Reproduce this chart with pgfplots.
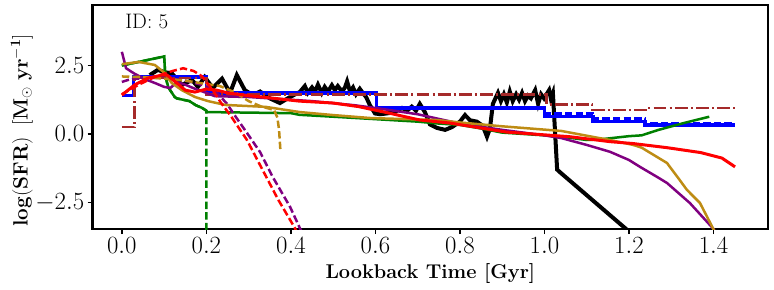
\documentclass[border=0pt]{standalone}
\usepackage{pgfplots}
\pgfplotsset{compat=1.18}
\definecolor{mplgreen}{RGB}{0,128,0}
\definecolor{mplpurple}{RGB}{128,0,128}
\definecolor{mplbrown}{RGB}{165,42,42}
\definecolor{mplgold}{RGB}{190,140,20}
\begin{document}
\begin{tikzpicture}
\begin{axis}[name=ax,
  scale only axis, width=675.3bp, height=224bp,
  xmin=-0.069, xmax=1.529, ymin=-3.47, ymax=4.71,
  xtick={0,0.2,0.4,0.6,0.8,1.0,1.2,1.4},
  ytick={-2.5,0,2.5},
  xticklabel style={/pgf/number format/.cd,fixed,fixed zerofill,precision=1},
  yticklabel style={/pgf/number format/.cd,fixed,fixed zerofill,precision=1},
  tick label style={font=\fontsize{23}{27}\selectfont},
  tick align=outside, tick pos=left,
  major tick length=5bp,
  every tick/.style={black, line width=1.5bp},
  axis line style={line width=2.5bp},
  xlabel={\textbf{Lookback Time [Gyr]}},
  ylabel={$\mathbf{log(SFR)\ \ [M_\odot\ yr^{-1}]}$},
  xlabel style={font=\fontsize{20}{24}\selectfont, at={(axis description cs:0.5,-0.223)}, anchor=base},
  ylabel style={font=\fontsize{19.5}{23}\selectfont, at={(axis description cs:-0.105,0.44)}, anchor=center},
  clip=true,
]
% black
\addplot[black, line width=4bp] coordinates {
(0.066,2.15)(0.085,2.34)(0.102,2.25)(0.118,2.22)(0.142,1.79)(0.166,1.97)(0.180,1.72)(0.196,2.08)(0.215,1.68)(0.237,2.02)(0.256,1.5)(0.272,2.15)(0.291,1.6)(0.310,1.42)(0.327,1.55)(0.350,1.3)(0.374,1.13)(0.398,1.35)(0.421,1.53)
(0.433,1.75)(0.440,1.5)(0.450,1.7)(0.457,1.55)(0.464,1.8)(0.473,1.5)(0.480,1.72)(0.488,1.55)(0.497,1.78)(0.504,1.6)(0.511,1.75)(0.521,1.55)(0.528,1.7)(0.533,1.92)(0.540,1.55)(0.547,1.7)(0.554,1.45)(0.563,1.65)(0.570,1.5)(0.578,1.35)(0.587,1.05)(0.599,0.75)(0.611,0.72)(0.627,0.75)(0.646,0.8)(0.663,0.95)(0.675,0.85)(0.686,1.0)(0.696,0.85)(0.705,1.1)(0.717,0.8)(0.729,0.35)(0.746,0.22)(0.765,0.15)(0.781,0.25)(0.800,0.45)(0.812,0.69)(0.824,0.5)(0.840,0.45)(0.854,0.3)(0.864,-0.1)(0.871,0.2)(0.878,1.1)(0.890,1.5)(0.897,1.2)(0.904,1.45)(0.911,1.15)(0.918,1.55)(0.925,1.2)(0.933,1.45)(0.940,1.25)(0.947,1.5)(0.954,1.2)(0.961,1.4)(0.968,1.3)(0.978,1.6)(0.985,1.1)(0.992,1.45)(0.999,1.3)(1.011,1.6)(1.015,1.3)(1.02,1.5)(1.03,-1.3)(1.037,-1.4)(1.2,-3.56)};
% blue solid
\addplot[blue, line width=3.5bp] coordinates {
(0,1.4)(0.027,1.4)(0.027,2.08)(0.2,2.08)(0.2,1.5)(0.603,1.5)(0.603,0.94)(1.0,0.94)(1.0,0.63)(1.115,0.63)(1.115,0.45)(1.238,0.45)(1.238,0.33)(1.45,0.33)};
% blue dashed
\addplot[blue, line width=2.5bp, dash pattern=on 7.4bp off 3.2bp] coordinates {
(0,1.4)(0.027,1.4)(0.027,2.08)(0.2,2.08)(0.2,1.5)(0.603,1.5)(0.603,0.94)(1.0,0.94)(1.0,0.75)(1.115,0.75)(1.115,0.57)(1.238,0.57)(1.238,0.38)(1.45,0.38)};
% brown dash-dot
\addplot[mplbrown, line width=2.5bp, dash pattern=on 12.8bp off 3.2bp on 2bp off 3.2bp] coordinates {
(0,0.25)(0.03,0.25)(0.03,2.05)(0.2,2.05)(0.2,1.45)(1.005,1.45)(1.005,1.08)(1.113,1.08)(1.113,0.88)(1.243,0.88)(1.243,0.94)(1.45,0.94)};
% green solid
\addplot[mplgreen, line width=2.5bp] coordinates {
(0,2.5)(0.1,2.83)(0.103,2.1)(0.11,1.7)(0.125,1.35)(0.13,1.3)(0.16,1.2)(0.175,1.05)(0.19,0.95)(0.2,0.85)(0.202,0.8)(0.3,0.78)(0.4,0.76)(0.42,0.7)(0.5,0.63)(0.59,0.55)(0.7,0.45)(0.75,0.38)(0.8,0.33)(0.85,0.2)(0.9,0.05)(0.95,0.0)(1.0,-0.05)(1.05,-0.12)(1.1,-0.22)(1.13,-0.2)(1.2,-0.08)(1.23,-0.05)(1.27,0.15)(1.33,0.4)(1.39,0.63)};
% green dashed
\addplot[mplgreen, line width=2.5bp, dash pattern=on 7.4bp off 3.2bp] coordinates {
(0,2.5)(0.1,2.83)(0.103,2.1)(0.11,1.7)(0.125,1.35)(0.13,1.3)(0.16,1.2)(0.175,1.05)(0.19,0.95)(0.2,0.85)(0.2,-3.7)};
% purple solid
\addplot[mplpurple, line width=2.5bp] coordinates {
(0,3.0)(0.01,2.4)(0.03,2.2)(0.055,2.0)(0.08,1.85)(0.1,1.72)(0.115,1.68)(0.13,1.9)(0.15,1.8)(0.17,1.67)(0.2,1.5)(0.22,1.38)(0.3,1.35)(0.35,1.3)(0.45,1.2)(0.55,1.05)(0.6,0.95)(0.7,0.72)(0.75,0.55)(0.8,0.38)(0.9,0.15)(1.0,-0.05)(1.04,-0.15)(1.1,-0.4)(1.155,-0.65)(1.2,-0.95)(1.226,-1.2)(1.27,-1.6)(1.29,-1.79)(1.344,-2.52)(1.399,-3.45)(1.405,-3.6)};
% purple dashed
\addplot[mplpurple, line width=2.5bp, dash pattern=on 7.4bp off 3.2bp] coordinates {
(0,1.9)(0.02,2.0)(0.06,2.05)(0.1,2.05)(0.15,1.95)(0.2,1.75)(0.225,1.5)(0.249,1.1)(0.263,0.77)(0.296,0.04)(0.327,-0.66)(0.357,-1.57)(0.398,-2.66)(0.421,-3.43)(0.43,-3.7)};
% gold solid
\addplot[mplgold, line width=2.5bp] coordinates {
(0,2.55)(0.04,2.63)(0.078,2.52)(0.102,2.22)(0.118,1.86)(0.142,1.6)(0.173,1.35)(0.204,1.2)(0.245,1.06)(0.34,0.99)(0.421,0.8)(0.5,0.69)(0.59,0.58)(0.745,0.51)(0.8,0.42)(0.9,0.28)(1.04,0.11)(1.13,-0.15)(1.155,-0.22)(1.21,-0.4)(1.23,-0.5)(1.29,-1.06)(1.32,-1.68)(1.337,-2.04)(1.368,-2.52)(1.399,-3.45)(1.404,-3.6)};
% gold dashed
\addplot[mplgold, line width=2.5bp, dash pattern=on 7.4bp off 3.2bp] coordinates {
(0,2.1)(0.05,2.08)(0.1,2.02)(0.15,1.95)(0.185,1.86)(0.232,1.75)(0.27,1.5)(0.3,1.2)(0.33,1.0)(0.36,0.88)(0.368,0.6)(0.372,0.15)(0.375,-0.55)};
% red solid
\addplot[red, line width=3bp] coordinates {
(0,1.42)(0.03,1.79)(0.061,2.04)(0.095,2.15)(0.107,2.15)(0.13,1.86)(0.15,1.6)(0.173,1.53)(0.2,1.64)(0.225,1.6)(0.25,1.5)(0.3,1.4)(0.35,1.32)(0.42,1.2)(0.5,1.13)(0.56,1.0)(0.63,0.77)(0.705,0.51)(0.776,0.4)(0.91,0.07)(1.06,-0.1)(1.155,-0.28)(1.21,-0.35)(1.29,-0.5)(1.37,-0.68)(1.42,-0.88)(1.451,-1.2)};
% red dashed
\addplot[red, line width=2.5bp, dash pattern=on 7.4bp off 3.2bp] coordinates {
(0,1.45)(0.04,1.8)(0.08,2.1)(0.12,2.3)(0.145,2.4)(0.17,2.3)(0.19,2.1)(0.215,1.6)(0.235,1.13)(0.256,0.7)(0.296,-0.22)(0.336,-1.4)(0.37,-2.4)(0.41,-3.45)(0.42,-3.8)};
\node[anchor=west, font=\fontsize{21}{25}\selectfont] at (axis cs:0,4.12) {ID: 5};
\end{axis}
\pgfresetboundingbox
\path[use as bounding box] (ax.south west) ++(-92.7bp,-61bp) rectangle ++(774bp,290bp);
\end{tikzpicture}
\end{document}
